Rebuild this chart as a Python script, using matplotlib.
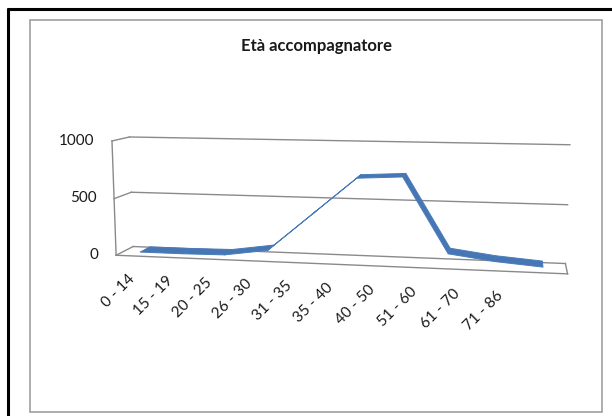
import matplotlib
matplotlib.use("Agg")
import matplotlib.pyplot as plt
from matplotlib.lines import Line2D
from matplotlib.patches import Rectangle
from mpl_toolkits.mplot3d import proj3d
from mpl_toolkits.mplot3d.art3d import Poly3DCollection

# Data
categories = ["0 - 14", "15 - 19", "20 - 25", "26 - 30", "31 - 35",
              "35 - 40", "40 - 50", "51 - 60", "61 - 70", "71 - 86"]
counts = [20, 20, 25, 80, 400, 720, 740, 110, 60, 30]
value_ticks = [0, 500, 1000]
title = "Età accompagnatore"

plt.rcParams["font.family"] = ["Lato", "DejaVu Sans"]

W, H = 612, 416
fig = plt.figure(figsize=(W / 100, H / 100), dpi=100)
fig.patch.set_facecolor("white")

# outer frame (black, top and left) and chart border (grey)
fig.add_artist(Line2D([7 / W, 1.0], [1 - 9 / H, 1 - 9 / H], color="black",
                      lw=2.2, transform=fig.transFigure, solid_capstyle="butt"))
fig.add_artist(Line2D([8 / W, 8 / W], [1 - 8 / H, 0.0], color="black",
                      lw=2.2, transform=fig.transFigure, solid_capstyle="butt"))
fig.add_artist(Rectangle((30 / W, 1 - 411.5 / H), 572 / W, 391.5 / H,
                         transform=fig.transFigure, fill=False,
                         edgecolor="#a0a0a0", lw=1.2))

fig.text(316 / W, 1 - 46 / H, title, ha="center", va="center",
         fontsize=12, fontweight="bold", color="#1a1a1a")

# 3D plot area
S = 620
cx, cy = 328, 210
ax = fig.add_axes([cx / W - S / 2 / W, 1 - cy / H - S / 2 / H, S / W, S / H],
                  projection="3d", computed_zorder=False)
ax.set_axis_off()
ax.patch.set_alpha(0)

n = len(categories)
x0, x1 = -0.5, n - 0.5
y0, y1 = 0.0, 1.0
zmax = value_ticks[-1]
ax.set_xlim(x0, x1)
ax.set_ylim(y0, y1)
ax.set_zlim(0, zmax)
ax.set_box_aspect((430, 43, 112), zoom=0.736)
ax.view_init(elev=9, azim=-79.4)
ax.set_proj_type("persp", focal_length=0.29)

grid_kw = dict(color="#8a8a8a", lw=1.0, clip_on=False, zorder=1)
# gridlines on back wall and left wall
for z in value_ticks:
    ax.plot([x0, x1], [y1, y1], [z, z], **grid_kw)
    ax.plot([x0, x0], [y0, y1], [z, z], **grid_kw)
# left wall front edge, floor front and right edges
ax.plot([x0, x0], [y0, y0], [0, zmax], **grid_kw)
ax.plot([x0, x1], [y0, y0], [0, 0], **grid_kw)
ax.plot([x1, x1], [y0, y1], [0, 0], **grid_kw)

# ribbon line
yb, yf = 0.8, 0.2
quads = []
for i in range(n - 1):
    quads.append([(i, yb, counts[i]), (i + 1, yb, counts[i + 1]),
                  (i + 1, yf, counts[i + 1]), (i, yf, counts[i])])
rib = Poly3DCollection(quads, facecolor="#4676b4", edgecolor="#4a7bb9",
                       linewidths=0.7, zorder=3)
rib.set_clip_on(False)
ax.add_collection3d(rib)


def to2d(x, y, z):
    px, py, _ = proj3d.proj_transform(x, y, z, ax.get_proj())
    return px, py


# value labels
for z in value_ticks:
    px, py = to2d(x0 - 0.42, y0, z)
    ax.text2D(px, py, str(z), transform=ax.transData, ha="right",
              va="center", fontsize=11, color="#1a1a1a", clip_on=False)

# category labels
for i, c in enumerate(categories):
    px, py = to2d(-0.12 + i * 0.918, y0, -185)
    ax.text2D(px, py, c, transform=ax.transData, rotation=45,
              rotation_mode="anchor", ha="right", va="center",
              fontsize=11, color="#1a1a1a", clip_on=False)

fig.savefig("out.png", dpi=100)
